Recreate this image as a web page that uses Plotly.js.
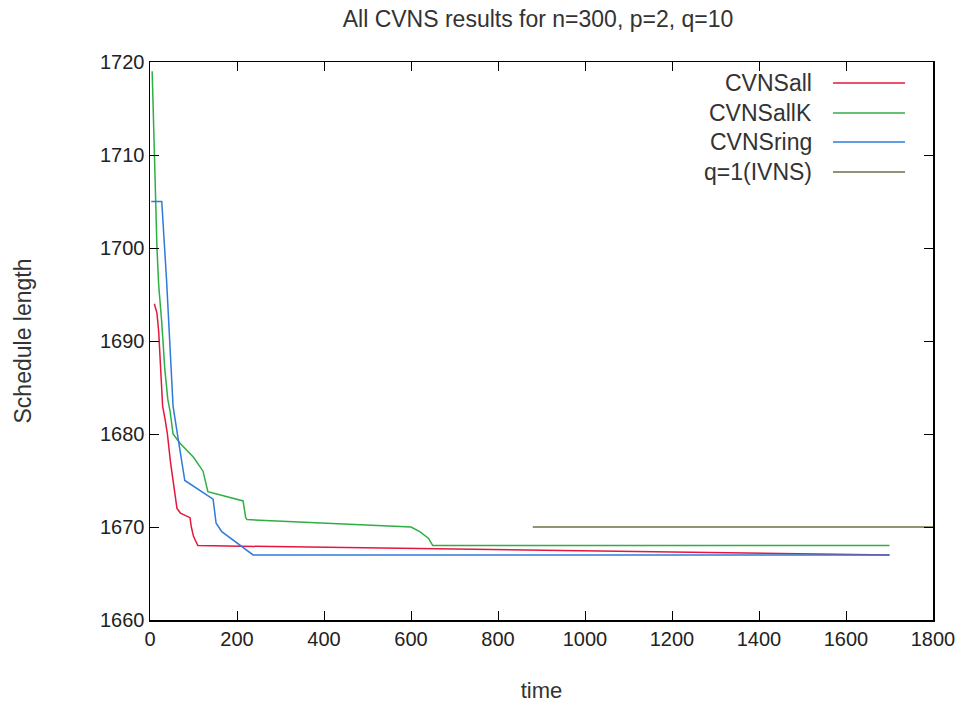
<!DOCTYPE html>
<html>
<head>
<meta charset="utf-8">
<script src="https://cdn.plot.ly/plotly-3.0.1.min.js"></script>
<style>
  html, body { margin: 0; padding: 0; background: #ffffff; }
  #chart { width: 963px; height: 704px; }
</style>
</head>
<body>
<div id="chart"></div>
<script>
// ---- data ----
const seriesNames = ["CVNSall", "CVNSallK", "CVNSring", "q=1(IVNS)"];

const cvnsAllX = [10, 16, 20, 23, 26, 29, 35, 40, 47, 53, 58, 62, 70, 80, 92, 95, 100, 105, 110, 1700];
const cvnsAllY = [1694, 1693, 1691, 1688, 1685, 1683, 1681.5, 1680, 1677, 1675, 1673, 1672, 1671.5, 1671.3, 1671, 1670, 1669, 1668.5, 1668, 1667];

const cvnsAllKX = [5, 11, 16, 20, 27, 34, 41, 46, 53, 69, 100, 122, 133, 214, 220, 223, 600, 620, 640, 650, 1700];
const cvnsAllKY = [1719, 1707, 1700, 1696, 1692, 1687, 1683.7, 1682.5, 1680, 1679, 1677.5, 1676, 1673.8, 1672.8, 1671, 1670.8, 1670, 1669.5, 1668.8, 1668, 1668];

const cvnsRingX = [3, 27, 38, 53, 65, 80, 145, 152, 165, 200, 237, 1700];
const cvnsRingY = [1705, 1705, 1696.6, 1683, 1679.4, 1675, 1673, 1670.4, 1669.5, 1668.3, 1667, 1667];

const ivnsX = [880, 1800];
const ivnsY = [1670, 1670];

const xTickVals = [0, 200, 400, 600, 800, 1000, 1200, 1400, 1600, 1800];
const yTickVals = [1660, 1670, 1680, 1690, 1700, 1710, 1720];

const colors = ["#e5173c", "#2fae45", "#2f7bd8", "#6f6f45"];

// ---- traces ----
const xs = [cvnsAllX, cvnsAllKX, cvnsRingX, ivnsX];
const ys = [cvnsAllY, cvnsAllKY, cvnsRingY, ivnsY];
const traces = seriesNames.map((name, i) => ({
  x: xs[i], y: ys[i], name: name, type: "scatter", mode: "lines",
  line: { color: colors[i], width: 1.5 }, showlegend: false
}));

// ---- gnuplot-style legend (text right, sample line to its right) ----
const W = 963, H = 704, L = 150, R = 933, T = 62, B = 620;
const px2x = p => (p - L) / (R - L);
const px2y = p => (B - p) / (B - T);
const legendRowsPx = [83, 113, 142, 172];
const annotations = [];
const shapes = [];
seriesNames.forEach((name, i) => {
  annotations.push({
    xref: "paper", yref: "paper", x: px2x(814), y: px2y(legendRowsPx[i]),
    xanchor: "right", yanchor: "middle", showarrow: false, text: name,
    font: { family: "Liberation Sans, Arial, sans-serif", size: 23, color: "#333333" }
  });
  shapes.push({
    type: "line", xref: "paper", yref: "paper",
    x0: px2x(833), x1: px2x(905), y0: px2y(legendRowsPx[i]), y1: px2y(legendRowsPx[i]),
    line: { color: colors[i], width: 1.5 }
  });
});

const axisFont = { family: "Liberation Sans, Arial, sans-serif", size: 20, color: "#222222" };

const layout = {
  width: W, height: H,
  margin: { l: L, r: W - R, t: T, b: H - B, pad: 0 },
  paper_bgcolor: "#ffffff", plot_bgcolor: "#ffffff",
  showlegend: false,
  title: {
    text: "All CVNS results for n=300, p=2, q=10",
    font: { family: "Liberation Sans, Arial, sans-serif", size: 23, color: "#333333" },
    x: 538 / W, xanchor: "center",
    y: 1 - 19 / H, yanchor: "middle"
  },
  xaxis: {
    range: [0, 1800], tickvals: xTickVals, ticktext: xTickVals.map(String),
    ticks: "inside", ticklen: 9, tickwidth: 1, tickcolor: "#000000",
    mirror: "allticks", showline: true, linecolor: "#000000", linewidth: 1.5,
    showgrid: false, zeroline: false, tickfont: axisFont,
    title: { text: "time", font: { family: "Liberation Sans, Arial, sans-serif", size: 22, color: "#333333" }, standoff: 34 }
  },
  yaxis: {
    range: [1660, 1720], tickvals: yTickVals, ticktext: yTickVals.map(String),
    ticks: "inside", ticklen: 9, tickwidth: 1, tickcolor: "#000000",
    mirror: "allticks", showline: true, linecolor: "#000000", linewidth: 1.5,
    showgrid: false, zeroline: false, tickfont: axisFont,
    title: { text: "Schedule length", font: { family: "Liberation Sans, Arial, sans-serif", size: 23, color: "#333333" }, standoff: 62 }
  },
  annotations: annotations,
  shapes: shapes
};

Plotly.newPlot("chart", traces, layout, { displayModeBar: false, staticPlot: true });
</script>
</body>
</html>
